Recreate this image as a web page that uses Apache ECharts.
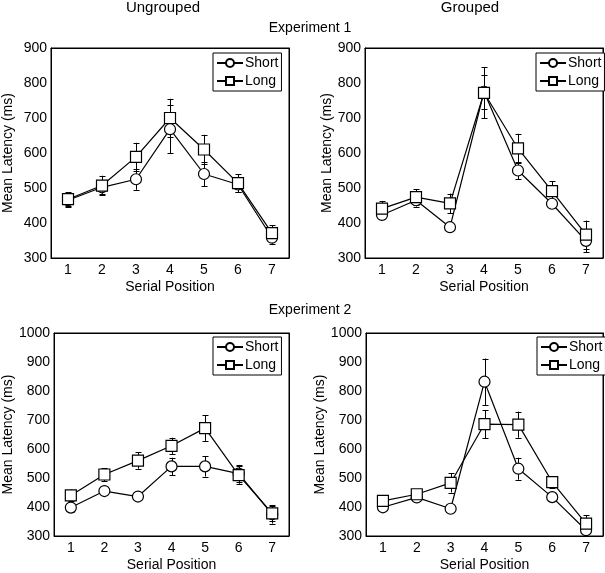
<!DOCTYPE html>
<html><head><meta charset="utf-8">
<script src="https://cdn.jsdelivr.net/npm/echarts@6/dist/echarts.min.js"></script>
<style>html,body{margin:0;padding:0;background:#fff}#c{width:605px;height:573px}</style>
</head><body><div id="c"></div>
<script>
const categories = ['1','2','3','4','5','6','7'];
// Experiment 1, Ungrouped
const e1UngShort = [465, 502, 525, 668, 540, 510, 358];
const e1UngShortErr = [18, 20, 30, 68, 35, 22, 18];
const e1UngLong = [468, 507, 589, 700, 610, 514, 371];
const e1UngLongErr = [20, 28, 40, 55, 42, 25, 22];
// Experiment 1, Grouped
const e1GrpShort = [423, 465, 388, 775, 550, 455, 349];
const e1GrpShortErr = [12, 18, 12, 48, 25, 12, 32];
const e1GrpLong = [441, 474, 456, 772, 613, 491, 367];
const e1GrpLongErr = [22, 22, 28, 73, 42, 28, 40];
// Experiment 2, Ungrouped
const e2UngShort = [398, 455, 436, 540, 540, 515, 375];
const e2UngShortErr = [15, 10, 12, 30, 35, 30, 32];
const e2UngLong = [440, 512, 560, 611, 672, 510, 378];
const e2UngLongErr = [20, 22, 28, 28, 44, 30, 25];
// Experiment 2, Grouped
const e2GrpShort = [399, 433, 394, 832, 532, 434, 320];
const e2GrpShortErr = [12, 12, 12, 80, 38, 12, 10];
const e2GrpLong = [421, 444, 483, 686, 684, 486, 343];
const e2GrpLongErr = [12, 12, 33, 48, 45, 20, 28];

const yRanges = [[300, 900], [300, 900], [300, 1000], [300, 1000]];
const FONT = 'Liberation Sans, Arial, Helvetica, sans-serif';

const panels = [
  {grid: {left: 50, top: 48, width: 239, height: 210}, s: e1UngShort, se: e1UngShortErr, l: e1UngLong, le: e1UngLongErr, nameGap: 36, legend: {left: 213, top: 53}},
  {grid: {left: 365, top: 48, width: 238, height: 210}, s: e1GrpShort, se: e1GrpShortErr, l: e1GrpLong, le: e1GrpLongErr, nameGap: 31, legend: {left: 536, top: 53}},
  {grid: {left: 50, top: 333, width: 239, height: 208}, s: e2UngShort, se: e2UngShortErr, l: e2UngLong, le: e2UngLongErr, nameGap: 39, legend: {left: 213, top: 337}},
  {grid: {left: 366, top: 333, width: 237, height: 208}, s: e2GrpShort, se: e2GrpShortErr, l: e2GrpLong, le: e2GrpLongErr, nameGap: 39, legend: {left: 537, top: 337}}
];

function errRender(params, api) {
  const v = api.value(1), e = api.value(2);
  const t = api.coord([api.value(0), v + e]);
  const b = api.coord([api.value(0), v - e]);
  const x = Math.round(t[0]) + 0.5;
  const w = 3;
  const st = {stroke: '#000', lineWidth: 1, fill: null};
  return {type: 'group', children: [
    {type: 'line', shape: {x1: x, y1: t[1], x2: x, y2: b[1]}, style: st},
    {type: 'line', shape: {x1: x - w, y1: Math.round(t[1]) + 0.5, x2: x + w, y2: Math.round(t[1]) + 0.5}, style: st},
    {type: 'line', shape: {x1: x - w, y1: Math.round(b[1]) + 0.5, x2: x + w, y2: Math.round(b[1]) + 0.5}, style: st}
  ]};
}

const option = {
  animation: false,
  backgroundColor: '#fff',
  textStyle: {fontFamily: FONT, color: '#000'},
  grid: [], xAxis: [], yAxis: [], series: [], legend: [],
  graphic: [
    {type: 'text', x: 163, y: 8, style: {text: 'Ungrouped', font: '15px ' + FONT, align: 'center', verticalAlign: 'middle', fill: '#000'}},
    {type: 'text', x: 470, y: 8, style: {text: 'Grouped', font: '15px ' + FONT, align: 'center', verticalAlign: 'middle', fill: '#000'}},
    {type: 'text', x: 310, y: 28, style: {text: 'Experiment 1', font: '14px ' + FONT, align: 'center', verticalAlign: 'middle', fill: '#000'}},
    {type: 'text', x: 310, y: 310, style: {text: 'Experiment 2', font: '14px ' + FONT, align: 'center', verticalAlign: 'middle', fill: '#000'}}
  ]
};

panels.forEach((p, g) => {
  option.grid.push(Object.assign({show: true, borderColor: '#000', borderWidth: 1, backgroundColor: 'transparent'}, p.grid));
  const tick = {inside: true, length: 4, lineStyle: {color: '#000'}};
  option.xAxis.push({
    type: 'category', gridIndex: g, data: categories, position: 'bottom',
    axisLine: {show: true, lineStyle: {color: '#000'}},
    axisTick: Object.assign({alignWithLabel: true}, tick),
    axisLabel: {color: '#000', fontSize: 14, fontFamily: FONT, margin: 5},
    name: 'Serial Position', nameLocation: 'middle', nameGap: 22,
    nameTextStyle: {fontSize: 14, fontFamily: FONT, color: '#000'},
    splitLine: {show: false}
  });
  option.xAxis.push({
    type: 'category', gridIndex: g, data: categories, position: 'top',
    axisLine: {show: true, lineStyle: {color: '#000'}},
    axisTick: Object.assign({alignWithLabel: true}, tick),
    axisLabel: {show: false}, splitLine: {show: false}
  });
  option.yAxis.push({
    type: 'value', gridIndex: g, min: yRanges[g][0], max: yRanges[g][1], interval: 100, position: 'left',
    axisLine: {show: true, lineStyle: {color: '#000'}},
    axisTick: tick,
    axisLabel: {color: '#000', fontSize: 14, fontFamily: FONT, margin: 4, formatter: v => String(v)},
    name: 'Mean Latency (ms)', nameLocation: 'middle', nameGap: p.nameGap,
    nameTextStyle: {fontSize: 14, fontFamily: FONT, color: '#000'},
    splitLine: {show: false}
  });
  option.yAxis.push({
    type: 'value', gridIndex: g, min: yRanges[g][0], max: yRanges[g][1], interval: 100, position: 'right',
    axisLine: {show: true, lineStyle: {color: '#000'}},
    axisTick: tick, axisLabel: {show: false}, splitLine: {show: false}
  });
  const xi = 2 * g, yi = 2 * g;
  [[p.s, p.se], [p.l, p.le]].forEach(([vals, errs]) => {
    option.series.push({
      type: 'custom', xAxisIndex: xi, yAxisIndex: yi, z: 1, silent: true,
      renderItem: errRender, encode: {x: 0, y: 1},
      data: vals.map((v, i) => [i, v, errs[i]])
    });
  });
  option.series.push({
    name: 'Short', type: 'line', xAxisIndex: xi, yAxisIndex: yi, z: 3,
    data: p.s, symbol: 'circle', symbolSize: 11,
    itemStyle: {color: '#fff', borderColor: '#000', borderWidth: 1.2},
    lineStyle: {color: '#000', width: 1.2}
  });
  option.series.push({
    name: 'Long', type: 'line', xAxisIndex: xi, yAxisIndex: yi, z: 3,
    data: p.l, symbol: 'rect', symbolSize: 11,
    itemStyle: {color: '#fff', borderColor: '#000', borderWidth: 1.2},
    lineStyle: {color: '#000', width: 1.2}
  });
  option.legend.push({
    data: ['Short', 'Long'], orient: 'vertical', left: p.legend.left, top: p.legend.top,
    itemWidth: 26, itemHeight: 10, itemGap: 4, padding: [3, 3, 3, 3],
    borderColor: '#000', borderWidth: 1, backgroundColor: '#fff',
    textStyle: {fontSize: 14, fontFamily: FONT, color: '#000', padding: [0, 0, 0, -3]},
    selectedMode: false
  });
});

const chart = echarts.init(document.getElementById('c'), null, {renderer: 'canvas'});
chart.setOption(option);
</script>
</body></html>
